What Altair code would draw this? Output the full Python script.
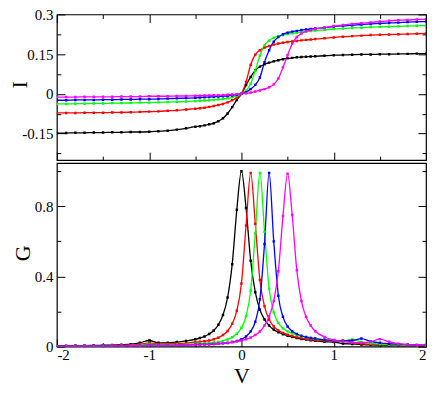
import altair as alt
import pandas as pd

# ---------------- data ----------------
V = [-2.0, -1.9, -1.8, -1.7, -1.6, -1.5, -1.4, -1.3, -1.2, -1.1,
     -1.0, -0.9, -0.8, -0.7, -0.6, -0.5, -0.45, -0.4, -0.35, -0.3,
     -0.25, -0.2, -0.15, -0.1, -0.05, 0.0, 0.05, 0.1, 0.15, 0.2,
     0.25, 0.3, 0.35, 0.4, 0.45, 0.5, 0.55, 0.6, 0.65, 0.7,
     0.75, 0.8, 0.9, 1.0, 1.1, 1.2, 1.3, 1.4, 1.5, 1.6,
     1.7, 1.8, 1.9, 2.0]

I_black = [-0.148, -0.148, -0.147, -0.147, -0.146, -0.146, -0.145, -0.145, -0.144, -0.144,
           -0.143, -0.141, -0.139, -0.135, -0.130, -0.124, -0.122, -0.119, -0.115, -0.111,
           -0.103, -0.092, -0.074, -0.050, -0.023, 0.0, 0.033, 0.064, 0.089, 0.103,
           0.112, 0.118, 0.123, 0.127, 0.131, 0.134, 0.136, 0.138, 0.139, 0.140,
           0.141, 0.142, 0.144, 0.146, 0.147, 0.148, 0.149, 0.149, 0.150, 0.150,
           0.151, 0.151, 0.152, 0.152]
I_red = [-0.072, -0.072, -0.072, -0.071, -0.071, -0.071, -0.070, -0.070, -0.069, -0.068,
         -0.067, -0.066, -0.064, -0.062, -0.059, -0.056, -0.054, -0.052, -0.049, -0.046,
         -0.042, -0.038, -0.032, -0.024, -0.014, 0.0, 0.045, 0.110, 0.148, 0.165,
         0.175, 0.181, 0.186, 0.190, 0.193, 0.196, 0.198, 0.200, 0.202, 0.204,
         0.205, 0.207, 0.210, 0.213, 0.216, 0.218, 0.220, 0.222, 0.223, 0.224,
         0.225, 0.226, 0.227, 0.228]
I_green = [-0.038, -0.038, -0.037, -0.037, -0.036, -0.036, -0.035, -0.035, -0.034, -0.033,
           -0.033, -0.032, -0.031, -0.030, -0.029, -0.027, -0.026, -0.025, -0.024, -0.022,
           -0.021, -0.019, -0.017, -0.013, -0.008, 0.0, 0.012, 0.038, 0.088, 0.145,
           0.183, 0.201, 0.212, 0.218, 0.222, 0.226, 0.229, 0.231, 0.233, 0.235,
           0.237, 0.239, 0.242, 0.245, 0.247, 0.249, 0.250, 0.252, 0.253, 0.254,
           0.255, 0.256, 0.257, 0.258]
I_blue = [-0.024, -0.024, -0.023, -0.023, -0.023, -0.022, -0.022, -0.021, -0.021, -0.020,
          -0.020, -0.019, -0.018, -0.017, -0.016, -0.015, -0.014, -0.013, -0.012, -0.011,
          -0.010, -0.009, -0.008, -0.006, -0.003, 0.0, 0.006, 0.018, 0.034, 0.062,
          0.120, 0.165, 0.197, 0.215, 0.225, 0.231, 0.235, 0.238, 0.241, 0.243,
          0.245, 0.247, 0.250, 0.254, 0.257, 0.259, 0.262, 0.264, 0.266, 0.268,
          0.269, 0.271, 0.272, 0.273]
I_magenta = [-0.012, -0.012, -0.012, -0.011, -0.011, -0.011, -0.011, -0.010, -0.010, -0.010,
             -0.009, -0.009, -0.009, -0.008, -0.008, -0.007, -0.007, -0.006, -0.006, -0.005,
             -0.005, -0.004, -0.003, -0.002, -0.001, 0.0, 0.002, 0.005, 0.009, 0.013,
             0.018, 0.025, 0.036, 0.058, 0.100, 0.146, 0.189, 0.215, 0.228, 0.236,
             0.241, 0.245, 0.250, 0.256, 0.260, 0.264, 0.267, 0.270, 0.273, 0.276,
             0.278, 0.279, 0.281, 0.282]

G_black = [0.005, 0.005, 0.006, 0.006, 0.007, 0.008, 0.009, 0.011, 0.014, 0.022,
           0.035, 0.022, 0.022, 0.026, 0.033, 0.042, 0.049, 0.058, 0.072, 0.092,
           0.125, 0.180, 0.280, 0.470, 0.780, 1.000, 0.790, 0.490, 0.310, 0.210,
           0.155, 0.120, 0.097, 0.082, 0.071, 0.062, 0.055, 0.049, 0.044, 0.040,
           0.036, 0.033, 0.028, 0.026, 0.018, 0.015, 0.012, 0.010, 0.009, 0.008,
           0.007, 0.006, 0.006, 0.005]
G_red = [0.004, 0.004, 0.005, 0.005, 0.006, 0.006, 0.007, 0.008, 0.010, 0.013,
         0.022, 0.014, 0.015, 0.017, 0.020, 0.025, 0.028, 0.031, 0.035, 0.042,
         0.051, 0.066, 0.089, 0.130, 0.205, 0.360, 0.690, 0.990, 0.700, 0.380,
         0.230, 0.155, 0.115, 0.092, 0.078, 0.068, 0.060, 0.054, 0.049, 0.045,
         0.041, 0.038, 0.033, 0.030, 0.036, 0.024, 0.018, 0.014, 0.012, 0.010,
         0.009, 0.008, 0.007, 0.006]
G_green = [0.003, 0.003, 0.004, 0.004, 0.004, 0.005, 0.005, 0.006, 0.007, 0.009,
           0.015, 0.010, 0.011, 0.012, 0.014, 0.016, 0.018, 0.019, 0.021, 0.024,
           0.027, 0.033, 0.041, 0.054, 0.074, 0.108, 0.173, 0.320, 0.645, 0.990,
           0.655, 0.330, 0.195, 0.135, 0.105, 0.087, 0.075, 0.066, 0.059, 0.054,
           0.049, 0.045, 0.039, 0.035, 0.034, 0.041, 0.026, 0.019, 0.015, 0.012,
           0.010, 0.009, 0.008, 0.007]
G_blue = [0.003, 0.003, 0.003, 0.003, 0.004, 0.004, 0.004, 0.005, 0.005, 0.006,
          0.009, 0.007, 0.007, 0.008, 0.009, 0.011, 0.012, 0.013, 0.014, 0.015,
          0.017, 0.019, 0.021, 0.026, 0.032, 0.042, 0.058, 0.087, 0.142, 0.270,
          0.585, 0.990, 0.600, 0.290, 0.170, 0.115, 0.088, 0.072, 0.062, 0.055,
          0.050, 0.046, 0.039, 0.035, 0.033, 0.035, 0.046, 0.030, 0.022, 0.017,
          0.014, 0.012, 0.010, 0.009]
G_magenta = [0.002, 0.002, 0.002, 0.003, 0.003, 0.003, 0.004, 0.004, 0.005, 0.005,
             0.007, 0.006, 0.007, 0.008, 0.009, 0.010, 0.011, 0.012, 0.013, 0.015,
             0.017, 0.019, 0.022, 0.026, 0.030, 0.035, 0.042, 0.052, 0.066, 0.086,
             0.120, 0.172, 0.260, 0.430, 0.745, 0.985, 0.750, 0.435, 0.260, 0.170,
             0.120, 0.088, 0.055, 0.038, 0.029, 0.024, 0.023, 0.028, 0.043, 0.028,
             0.017, 0.012, 0.010, 0.009]

names = ["black", "red", "green", "blue", "magenta"]
colors = ["#000000", "#ff0000", "#00ff00", "#0000ff", "#ff00ff"]

X_MAJOR = [-2, -1, 0, 1, 2]
X_MINOR = [-1.5, -0.5, 0.5, 1.5]
I_MAJOR = [-0.15, 0, 0.15, 0.3]
I_MINOR = [-0.225, -0.075, 0.075, 0.225]
G_MAJOR = [0, 0.4, 0.8]
G_MINOR = [0.2, 0.6, 1.0]


def to_long(series):
    rows = []
    for k, (n, arr) in enumerate(zip(names, series)):
        for v, y in zip(V, arr):
            rows.append({"V": v, "y": y, "s": n, "k": k})
    return pd.DataFrame(rows)


df_I = to_long([I_black, I_red, I_green, I_blue, I_magenta])
df_G = to_long([G_black, G_red, G_green, G_blue, G_magenta])

FONT = "Liberation Serif"
W = 370
H_TOP = 146
H_BOT = 184


def tick_axis(orient, vals, size):
    return alt.Axis(orient=orient, values=vals, offset=-size, tickSize=size,
                    ticks=True, labels=False, domain=False, grid=False,
                    title=None, tickColor="black", tickWidth=1, minExtent=0)


def panel(df, ydom, ymaj, ymin, h, ytitle, tx, ty, xlabels, top_ticks):
    xs = alt.Scale(domain=[-2, 2], nice=False, zero=False)
    ys = alt.Scale(domain=ydom, nice=False, zero=False)
    color = alt.Color("s:N", scale=alt.Scale(domain=names, range=colors), legend=None)
    base = alt.Chart(df)

    if xlabels:
        xl = alt.Axis(orient="bottom", values=X_MAJOR, ticks=False, tickSize=0,
                      domain=False, grid=False, labelExpr="datum.value + ''",
                      labelFont=FONT, labelFontSize=15, labelColor="black",
                      labelPadding=1, title="V", titleFont=FONT, titleFontSize=22,
                      titleFontWeight="normal", titleColor="black", titlePadding=3)
    else:
        xl = None
    yl = alt.Axis(orient="left", values=ymaj, ticks=False, tickSize=0,
                  domain=False, grid=False, labelExpr="datum.value + ''",
                  labelFont=FONT, labelFontSize=15, labelColor="black",
                  labelPadding=4, title=ytitle, titleFont=FONT, titleFontSize=22,
                  titleFontWeight="normal", titleColor="black",
                  titleX=tx, titleY=ty, titleAngle=270, titleAlign="center",
                  titleBaseline="middle", minExtent=0)

    line = base.mark_line(strokeWidth=1.3, interpolate="monotone", clip=True).encode(
        x=alt.X("V:Q", scale=xs, axis=xl),
        y=alt.Y("y:Q", scale=ys, axis=yl),
        color=color, detail="s:N")
    pts = base.mark_point(shape="square", filled=True, size=6, opacity=1, clip=True).encode(
        x=alt.X("V:Q", scale=xs, axis=tick_axis("bottom", X_MAJOR, 8)),
        y=alt.Y("y:Q", scale=ys, axis=tick_axis("left", ymaj, 8)),
        color=color)
    inv1 = base.mark_point(opacity=0).encode(
        x=alt.X("V:Q", scale=xs, axis=tick_axis("bottom", X_MINOR, 4)),
        y=alt.Y("y:Q", scale=ys, axis=tick_axis("left", ymin, 4)))
    inv2 = base.mark_point(opacity=0).encode(
        x=alt.X("V:Q", scale=xs, axis=tick_axis("top", X_MAJOR, 8) if top_ticks else None),
        y=alt.Y("y:Q", scale=ys, axis=tick_axis("right", ymaj, 8)))
    inv3 = base.mark_point(opacity=0).encode(
        x=alt.X("V:Q", scale=xs, axis=tick_axis("top", X_MINOR, 4) if top_ticks else None),
        y=alt.Y("y:Q", scale=ys, axis=tick_axis("right", ymin, 4)))
    return alt.layer(line, pts, inv1, inv2, inv3).resolve_axis(
        x="independent", y="independent").properties(width=W, height=h)


top = panel(df_I, [-0.25, 0.3], I_MAJOR, I_MINOR, H_TOP, "I", -37, H_TOP / 2 - 3, False, True)
bottom = panel(df_G, [0, 1.046], G_MAJOR, G_MINOR, H_BOT, "G", -34, H_BOT / 2 - 2, True, False)

chart = alt.vconcat(top, bottom, spacing=0).configure_view(
    stroke="black", strokeWidth=1.2
).properties(
    padding={"left": 0, "top": -2, "right": -2, "bottom": 0},
    background="white"
)

chart.save("out.html", embed_options={"renderer": "svg", "actions": False})
